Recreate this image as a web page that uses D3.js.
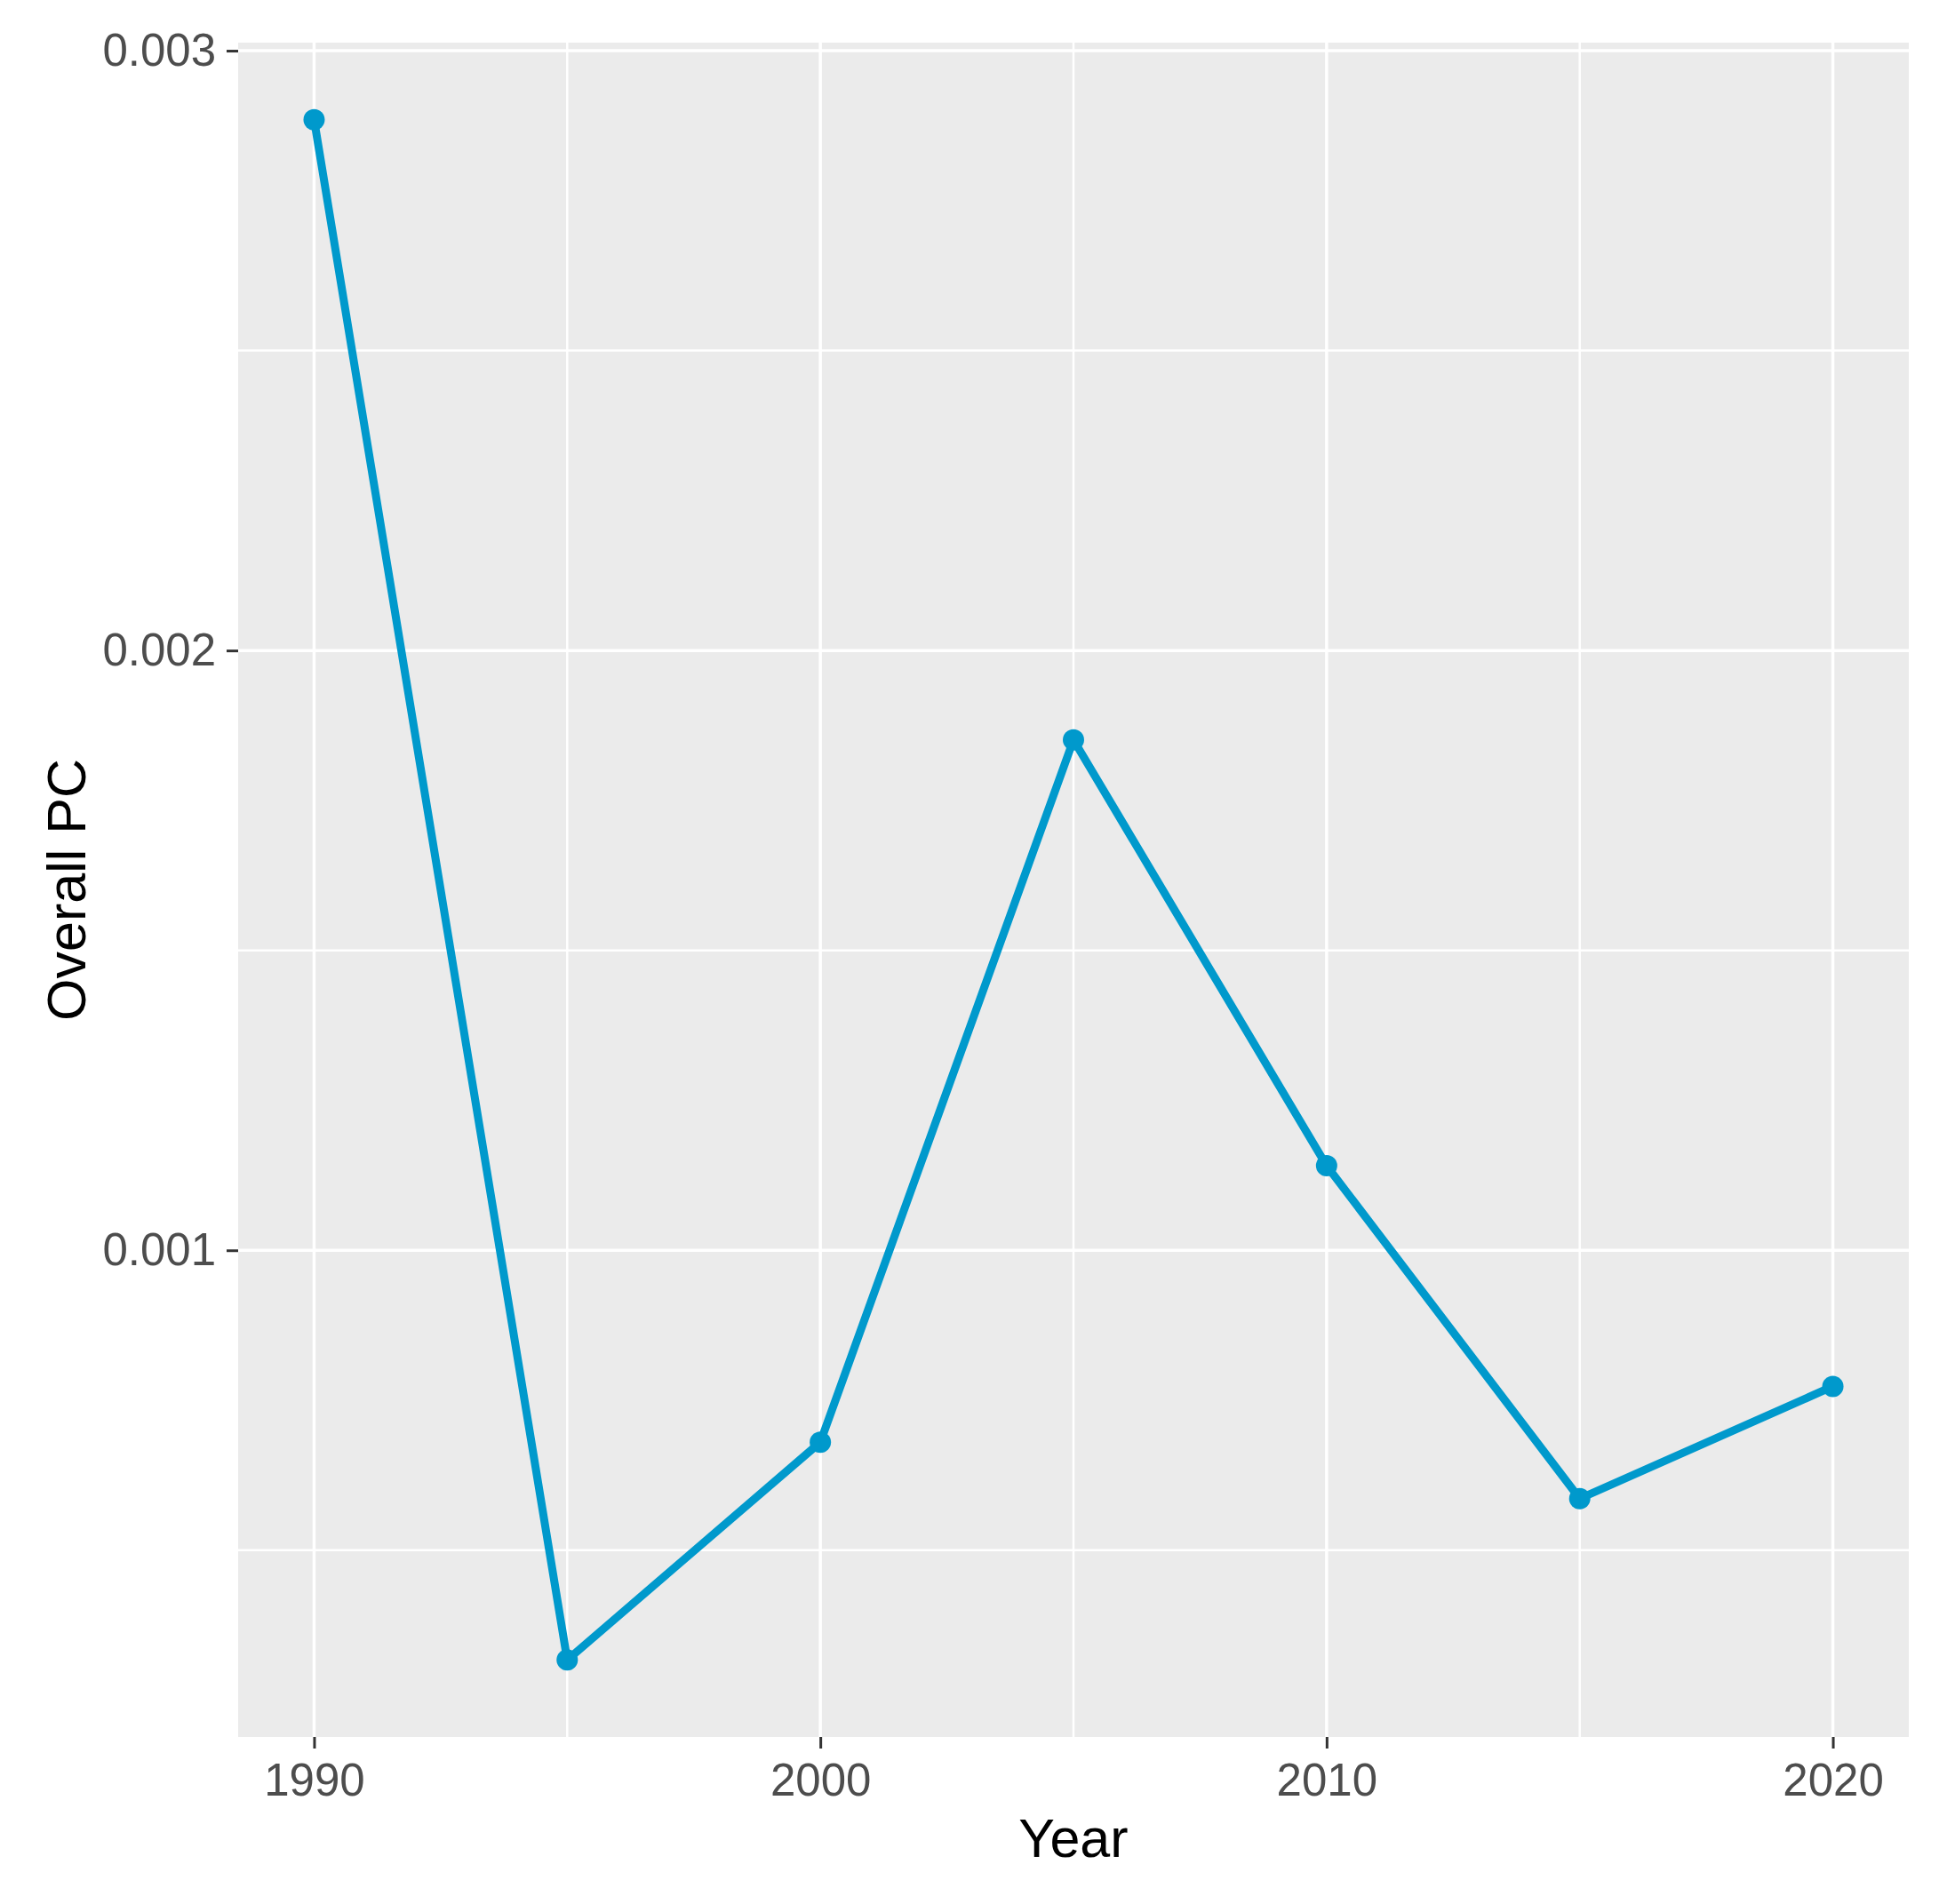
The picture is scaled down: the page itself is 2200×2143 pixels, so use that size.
<!DOCTYPE html>
<html>
<head>
<meta charset="utf-8">
<script src="https://cdn.jsdelivr.net/npm/d3@7"></script>
<style>
  html, body { margin: 0; padding: 0; background: #ffffff; }
  svg { display: block; }
</style>
</head>
<body>
<script>
// ---- Data ----
const years = [1990, 1995, 2000, 2005, 2010, 2015, 2020];
const overallPC = [0.002885, 0.000317, 0.000680, 0.001851, 0.001141, 0.000586, 0.000773];
const xMajorTicks = [1990, 2000, 2010, 2020];
const xMinorTicks = [1995, 2005, 2015];
const yMajorTicks = [0.001, 0.002, 0.003];
const yMinorTicks = [0.0005, 0.0015, 0.0025];
const xTitle = "Year";
const yTitle = "Overall PC";

// ---- Layout ----
const W = 2200, H = 2143;
const panel = { left: 268, right: 2148, top: 48, bottom: 1955 };
const font = "'Liberation Sans', Arial, Helvetica, sans-serif";
const lineColor = "#0099CC";

const svg = d3.select("body").append("svg")
  .attr("width", W).attr("height", H);

// ggplot-style 5% expansion
const xExt = d3.extent(years), xPad = (xExt[1] - xExt[0]) * 0.05;
const yExt = d3.extent(overallPC), yPad = (yExt[1] - yExt[0]) * 0.05;

const x = d3.scaleLinear()
  .domain([xExt[0] - xPad, xExt[1] + xPad])
  .range([panel.left, panel.right]);
const y = d3.scaleLinear()
  .domain([yExt[0] - yPad, yExt[1] + yPad])
  .range([panel.bottom, panel.top]);

// Panel background
svg.append("rect")
  .attr("x", panel.left).attr("y", panel.top)
  .attr("width", panel.right - panel.left)
  .attr("height", panel.bottom - panel.top)
  .attr("fill", "#EBEBEB");

const grid = svg.append("g");
// minor grid
grid.selectAll("line.ymin").data(yMinorTicks).join("line")
  .attr("x1", panel.left).attr("x2", panel.right)
  .attr("y1", d => y(d)).attr("y2", d => y(d))
  .attr("stroke", "#fff").attr("stroke-width", 2.5);
grid.selectAll("line.xmin").data(xMinorTicks).join("line")
  .attr("y1", panel.top).attr("y2", panel.bottom)
  .attr("x1", d => x(d)).attr("x2", d => x(d))
  .attr("stroke", "#fff").attr("stroke-width", 2.5);
// major grid
grid.selectAll("line.ymaj").data(yMajorTicks).join("line")
  .attr("x1", panel.left).attr("x2", panel.right)
  .attr("y1", d => y(d)).attr("y2", d => y(d))
  .attr("stroke", "#fff").attr("stroke-width", 3.5);
grid.selectAll("line.xmaj").data(xMajorTicks).join("line")
  .attr("y1", panel.top).attr("y2", panel.bottom)
  .attr("x1", d => x(d)).attr("x2", d => x(d))
  .attr("stroke", "#fff").attr("stroke-width", 3.5);

// Line
const line = d3.line()
  .x((d, i) => x(years[i]))
  .y(d => y(d));
svg.append("path")
  .datum(overallPC)
  .attr("d", line)
  .attr("fill", "none")
  .attr("stroke", lineColor)
  .attr("stroke-width", 9)
  .attr("stroke-linejoin", "round");

// Points
svg.selectAll("circle.pt").data(overallPC).join("circle")
  .attr("cx", (d, i) => x(years[i]))
  .attr("cy", d => y(d))
  .attr("r", 12)
  .attr("fill", lineColor);

// Axes
const xAxis = d3.axisBottom(x)
  .tickValues(xMajorTicks)
  .tickFormat(d3.format("d"))
  .tickSize(13).tickPadding(17);
const gx = svg.append("g")
  .attr("transform", `translate(0,${panel.bottom})`)
  .call(xAxis);
gx.select(".domain").remove();
gx.selectAll(".tick line").attr("stroke", "#333333").attr("stroke-width", 3);
gx.selectAll(".tick text")
  .attr("fill", "#4D4D4D")
  .style("font-family", font).style("font-size", "51px");

const yAxis = d3.axisLeft(y)
  .tickValues(yMajorTicks)
  .tickFormat(d3.format(".3f"))
  .tickSize(13).tickPadding(12);
const gy = svg.append("g")
  .attr("transform", `translate(${panel.left},0)`)
  .call(yAxis);
gy.select(".domain").remove();
gy.selectAll(".tick line").attr("stroke", "#333333").attr("stroke-width", 3);
gy.selectAll(".tick text")
  .attr("fill", "#4D4D4D")
  .style("font-family", font).style("font-size", "51px");

// Axis titles
svg.append("text")
  .attr("x", (panel.left + panel.right) / 2)
  .attr("y", 2090)
  .attr("text-anchor", "middle")
  .attr("fill", "#000")
  .style("font-family", font).style("font-size", "61px")
  .text(xTitle);

svg.append("text")
  .attr("transform", `translate(96,${(panel.top + panel.bottom) / 2}) rotate(-90)`)
  .attr("text-anchor", "middle")
  .attr("fill", "#000")
  .style("font-family", font).style("font-size", "61px")
  .text(yTitle);
</script>
</body>
</html>
